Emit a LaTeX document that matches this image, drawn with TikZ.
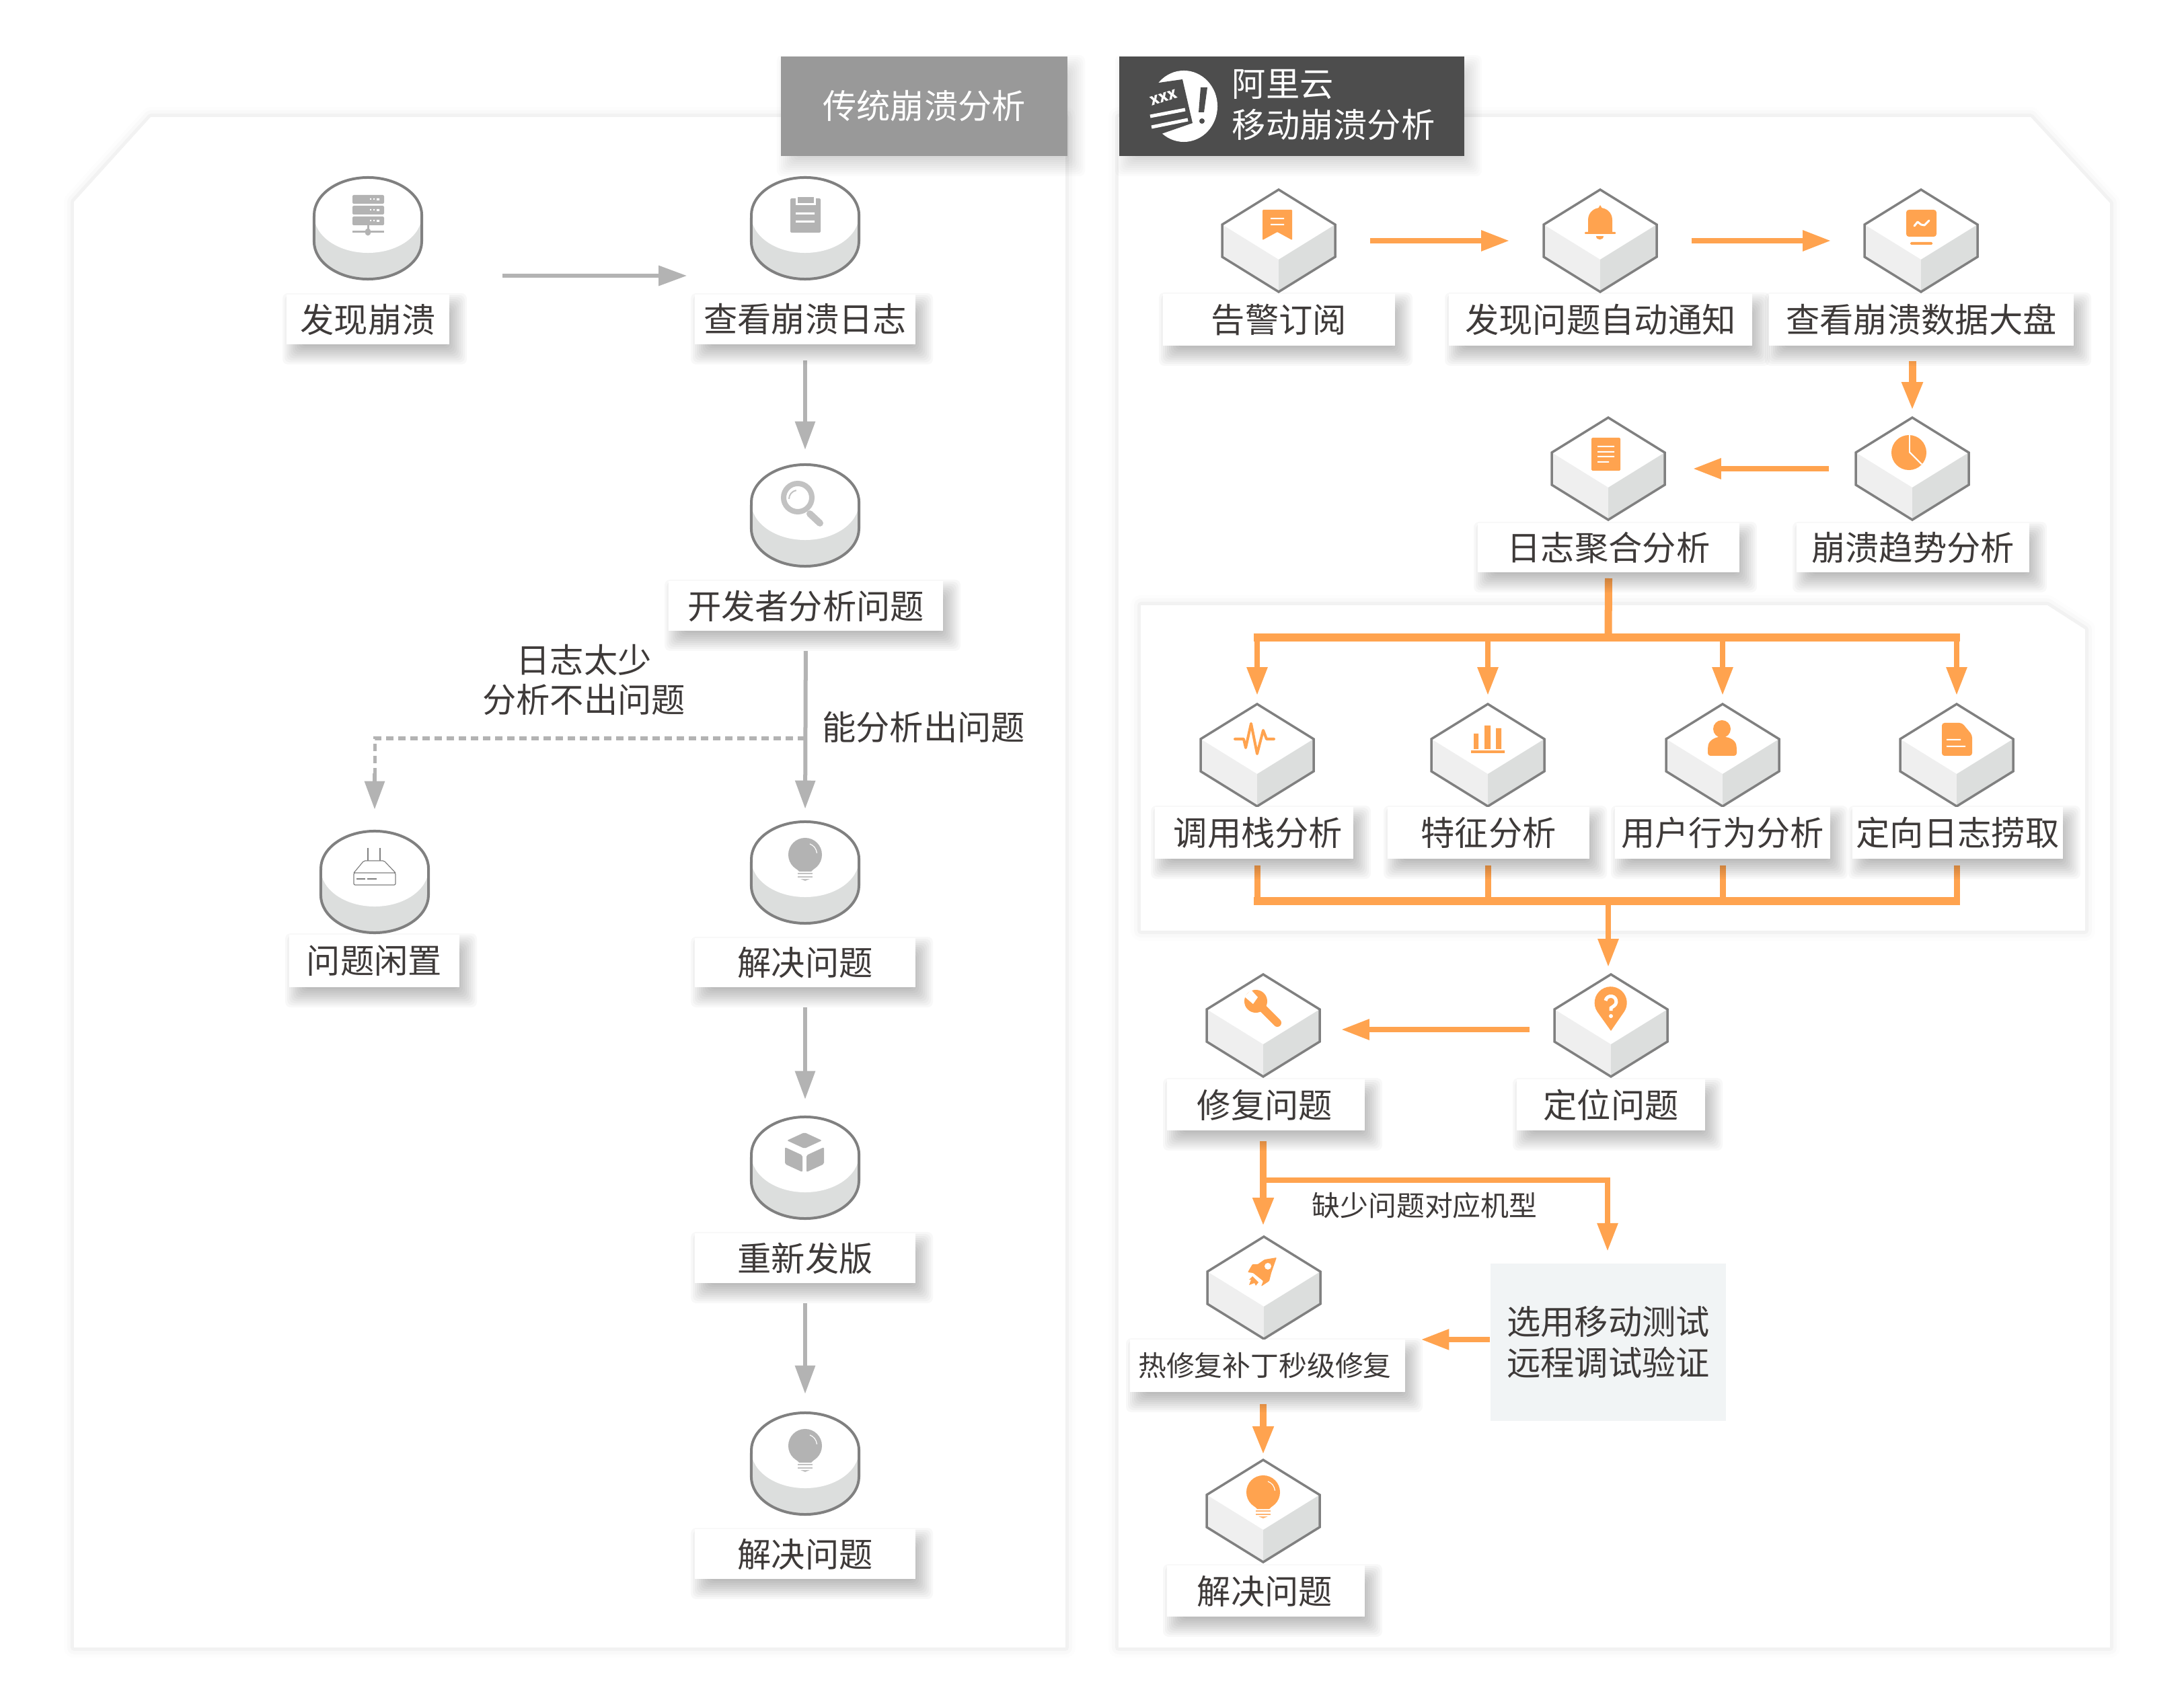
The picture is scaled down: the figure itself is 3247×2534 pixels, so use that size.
\documentclass[tikz,border=0pt]{standalone}
\usepackage{fontspec}
\usepackage{xcolor}
\setmainfont{Noto Sans CJK SC}
\usetikzlibrary{arrows.meta,calc}
\pgfdeclarelayer{panelslayer}
\pgfdeclarelayer{connlayer}
\pgfsetlayers{panelslayer,connlayer,main}
\definecolor{txtc}{HTML}{3E3A39}
\definecolor{org}{HTML}{FFA34F}
\definecolor{gry}{HTML}{B3B3B3}
\definecolor{edgec}{HTML}{808080}
\definecolor{facel}{HTML}{EFEFEF}
\definecolor{facer}{HTML}{DCDEDD}
\definecolor{hdg}{HTML}{999999}
\definecolor{hdd}{HTML}{4D4D4D}
\definecolor{boxc}{HTML}{F1F4F5}
\tikzset{
 panelshadow/.style={
  preaction={draw=black,line width=.30cm,draw opacity=.008,fill=black,fill opacity=.008,line join=round},
  preaction={draw=black,line width=.20cm,draw opacity=.016,fill=black,fill opacity=.016,line join=round},
  preaction={draw=black,line width=.10cm,draw opacity=.028,fill=black,fill opacity=.028,line join=round}},
 panel/.style={panelshadow,fill=white},
 labelbox/.style={fill=white,inner sep=0pt,outer sep=0pt,text=txtc,font=\fontsize{14.3pt}{17pt}\selectfont,align=center},
 smalllabel/.style={labelbox,font=\fontsize{11.9pt}{14pt}\selectfont},
 freetext/.style={text=txtc,inner sep=0pt,font=\fontsize{14.3pt}{16.6pt}\selectfont,align=center},
 header/.style={inner sep=0pt,outer sep=0pt,text=white,font=\fontsize{14.3pt}{16.6pt}\selectfont,align=center},
 garrow/.style={draw=gry,line width=.06cm,-{Triangle[length=.42cm,width=.29cm]}},
 gdash/.style={draw=gry,line width=.05cm,dash pattern=on .11cm off .07cm},
 oarrow/.style={draw=org,line width=.085cm,-{Triangle[length=.42cm,width=.29cm]}},
 oline/.style={draw=org,line width=.09cm},
 obus/.style={draw=org,line width=.11cm},
 outl/.style={draw=edgec,line width=.035cm,line join=miter},
}
% soft shadow of a box: x0,y0,x1,y1,opacity of one layer
\newcommand{\softbox}[5]{%
 \foreach \k in {16,13,...,-11}{\fill[black,opacity=#5,rounded corners=.08cm] (#1+10-\k,#2+14-\k) rectangle (#3+10+\k,#4+14+\k);}%
}
% cylinder: name, cx, top
\newcommand{\cyl}[3]{%
 \fill[facer] (#2-80,#3+57) -- (#2-80,#3+96) arc[start angle=180,end angle=360,x radius=.8cm,y radius=.56cm] -- (#2+80,#3+57) -- cycle;
 \fill[white] (#2,#3+57) ellipse[x radius=.8cm,y radius=.56cm];
 \draw[edgec,line width=.04cm] (#2-80,#3+57) arc[start angle=180,end angle=0,x radius=.8cm,y radius=.56cm] -- (#2+80,#3+96) arc[start angle=360,end angle=180,x radius=.8cm,y radius=.56cm] -- cycle;
 \node[inner sep=0pt,minimum width=1.6cm,minimum height=1.53cm] (#1) at (#2,#3+76) {};
}
% hexagon: name, cx, top
\newcommand{\hexa}[3]{%
 \fill[white] (#2,#3) -- (#2+84,#3+52) -- (#2,#3+104) -- (#2-84,#3+52) -- cycle;
 \fill[facel] (#2-84,#3+52) -- (#2,#3+104) -- (#2,#3+152) -- (#2-84,#3+100) -- cycle;
 \fill[facer] (#2+84,#3+52) -- (#2,#3+104) -- (#2,#3+152) -- (#2+84,#3+100) -- cycle;
 \draw[outl] (#2,#3) -- (#2+84,#3+52) -- (#2+84,#3+100) -- (#2,#3+152) -- (#2-84,#3+100) -- (#2-84,#3+52) -- cycle;
 \node[inner sep=0pt,minimum width=1.68cm,minimum height=1.52cm] (#1) at (#2,#3+76) {};
}
% label: name, x0, y0, x1, y1, text
\newcommand{\lab}[6]{%
 \softbox{#2}{#3}{#4}{#5}{.026}%
 \node[labelbox,minimum width={(#4-#2)*0.01cm},minimum height={(#5-#3)*0.01cm}] (#1) at ({(#2+#4)/2},{(#3+#5)/2}) {#6};
}
% bulb: colour, cx, y of the bulb centre
\newcommand{\bulb}[3]{%
 \fill[#1] (#2,#3) circle[radius=.25cm];
 \fill[#1] (#2-17,#3+17) -- (#2-9,#3+25) -- (#2+9,#3+25) -- (#2+17,#3+17) -- cycle;
 \draw[white,line width=.012cm] (#2+7,#3-16) arc[start angle=70,end angle=5,radius=.16cm];
 \fill[#1,opacity=.8] (#2-11,#3+27) rectangle (#2+11,#3+29);
 \fill[#1,opacity=.8] (#2-11,#3+32) rectangle (#2+11,#3+34);
 \fill[#1,opacity=.8] (#2-7,#3+36) -- (#2+7,#3+36) -- (#2,#3+39) -- cycle;
}
\begin{document}
\begin{tikzpicture}[x=.01cm,y=-.01cm]
\useasboundingbox (0,0) rectangle (3247,2534);
\begin{pgfonlayer}{panelslayer}
\fill[white] (0,0) rectangle (3247,2534);
% panels
\path[panel] (224,174) -- (1584,174) -- (1584,2450) -- (110,2450) -- (110,300) -- cycle;
\path[panel] (1663,174) -- (3019,174) -- (3137,302) -- (3137,2450) -- (1663,2450) -- cycle;
\path[panel] (1696,900) -- (3044,900) -- (3100,936) -- (3100,1384) -- (1696,1384) -- cycle;
\end{pgfonlayer}
% headers
\softbox{1161}{84}{1587}{232}{.014}
\softbox{1664}{84}{2177}{232}{.014}
\node[header,fill=hdg,minimum width=4.26cm,minimum height=1.48cm] (h1) at (1374,158) {\raisebox{.06cm}{传统崩溃分析}};
\node[header,fill=hdd,minimum width=5.13cm,minimum height=1.48cm] (h2) at (1920.5,158) {};
\node[anchor=west,inner sep=0pt,text=white,align=left,font=\fontsize{14.3pt}{17.3pt}\selectfont] (h2t) at (1831,156) {阿里云\\移动崩溃分析};
% header logo
\fill[white] (1760,158) ellipse[x radius=.5cm,y radius=.53cm];
\fill[hdd] (1695,100) -- (1716,124) -- (1758,118) -- (1773,183) -- (1724,200) -- (1695,215) -- cycle;
\fill[hdd] (1785,130) -- (1795,130) -- (1790,167) -- (1782,167) -- cycle;
\fill[hdd] (1787,180) circle[radius=.04cm];
\node[text=white,inner sep=0pt,rotate=18,font=\fontsize{6.6pt}{7pt}\bfseries\selectfont] (logox) at (1730,145) {xxx};
\draw[white,line width=.05cm] (1710,173) -- (1762,163) (1712,189) -- (1766,178);
% ---------- left column
\cyl{c1}{547}{263}
\cyl{c2}{1197}{263}
\cyl{c3}{1197}{690}
\cyl{c4}{557}{1235}
\cyl{c5}{1197}{1221}
\cyl{c6}{1197}{1660}
\cyl{c7}{1197}{2100}
\lab{l1}{426}{438}{668}{512}{发现崩溃}
\lab{l2}{1033}{438}{1361}{512}{查看崩溃日志}
\lab{l3}{994}{864}{1402}{938}{开发者分析问题}
\lab{l4}{430}{1390}{683}{1468}{问题闲置}
\lab{l5}{1033}{1395}{1361}{1468}{解决问题}
\lab{l6}{1033}{1834}{1361}{1908}{重新发版}
\lab{l7}{1033}{2274}{1361}{2348}{解决问题}
% server icon
\foreach \yy in {290,306,322}{\fill[gry,rounded corners=.02cm] (524,\yy) rectangle (571,\yy+13);
 \fill[white] (550,\yy+5) rectangle (552,\yy+7) (555,\yy+5) rectangle (557,\yy+7) (560,\yy+5) rectangle (564,\yy+8);}
\draw[gry,line width=.03cm] (524,345) -- (571,345) (547,335) -- (547,345);
\fill[gry] (547,345) ellipse[x radius=.045cm,y radius=.055cm];
% clipboard icon
\fill[gry,rounded corners=.02cm] (1175,295) rectangle (1220,346);
\fill[white] (1183,292) rectangle (1213,305);
\fill[gry] (1186,293) rectangle (1210,302);
\fill[white] (1183,316) rectangle (1211,319) (1183,328) rectangle (1211,331);
% magnifier icon
\draw[gry!80,line width=.08cm] (1186,740) circle[radius=.21cm];
\draw[gry!80,line width=.1cm,line cap=round] (1204,764) -- (1219,778);
\draw[gry!80,line width=.02cm] (1173,742) arc[start angle=180,end angle=100,radius=.13cm];
% router icon
\draw[edgec,line width=.012cm,rounded corners=.02cm] (526,1298) -- (541,1280) -- (571,1280) -- (588,1298) (526,1298) rectangle (588,1316);
\draw[edgec,line width=.012cm] (547,1261) -- (547,1280) (565,1261) -- (565,1280);
\draw[edgec,line width=.012cm] (530,1307) -- (543,1307) (546,1307) -- (560,1307);
% bulbs and cube
\bulb{gry}{1197}{1271}
\bulb{gry}{1197}{2150}
\fill[gry,rounded corners=.02cm] (1196,1684) -- (1222,1696) -- (1196,1708) -- (1170,1696) -- cycle;
\fill[gry,rounded corners=.02cm] (1167,1706) -- (1193,1718) -- (1193,1743) -- (1167,1731) -- cycle;
\fill[gry,rounded corners=.02cm] (1225,1706) -- (1199,1718) -- (1199,1743) -- (1225,1731) -- cycle;
\node[freetext] (t1) at (868,1011) {日志太少\\分析不出问题};
\node[freetext] (t2) at (1373,1081) {能分析出问题};
% ---------- right column
\hexa{h1a}{1901}{282}
\hexa{h2a}{2379}{282}
\hexa{h3a}{2856}{282}
\hexa{h4a}{2391}{621}
\hexa{h5a}{2843}{621}
\hexa{h6a}{1869}{1047}
\hexa{h7a}{2212}{1047}
\hexa{h8a}{2561}{1047}
\hexa{h9a}{2909}{1047}
\hexa{h10a}{2395}{1449}
\hexa{h11a}{1878}{1449}
\hexa{h12a}{1879}{1839}
\hexa{h13a}{1878}{2171}
\lab{r1}{1729}{437}{2074}{514}{告警订阅}
\lab{r2}{2154}{437}{2605}{514}{发现问题自动通知}
\lab{r3}{2630}{437}{3083}{514}{查看崩溃数据大盘}
\lab{r4}{2197}{778}{2586}{851}{日志聚合分析}
\lab{r5}{2671}{778}{3017}{851}{崩溃趋势分析}
\lab{r6}{1717}{1200}{2012}{1277}{\hspace*{.12cm}调用栈分析}
\lab{r7}{2063}{1200}{2363}{1277}{特征分析}
\lab{r8}{2401}{1200}{2721}{1277}{用户行为分析}
\lab{r9}{2754}{1200}{3067}{1277}{定向日志捞取}
\lab{r10}{1735}{1605}{2029}{1681}{\hspace*{-.03cm}修复问题}
\lab{r11}{2255}{1605}{2535}{1681}{定位问题}
\softbox{1680}{1992}{2089}{2070}{.026}
\node[smalllabel,minimum width=4.09cm,minimum height=.78cm] (r12) at (1884.5,2031) {\hspace*{-.08cm}热修复补丁秒级修复};
\lab{r13}{1735}{2328}{2029}{2404}{\hspace*{-.03cm}解决问题}
\node[fill=boxc,inner sep=0pt,text=txtc,align=center,minimum width=3.5cm,minimum height=2.34cm,font=\fontsize{14.3pt}{17.3pt}\selectfont] (b1) at (2391,1996) {\raisebox{.02cm}{选用移动测试}\\\raisebox{.02cm}{远程调试验证}};
\node[freetext,font=\fontsize{11.9pt}{14pt}\selectfont] (t3) at (2118,1793) {缺少问题对应机型};
% orange icons
\fill[org,rounded corners=.01cm] (1877,312) -- (1921,312) -- (1921,357) -- (1899,345) -- (1877,357) -- cycle;
\fill[white] (1889,324) rectangle (1909,326) (1889,333) rectangle (1909,335);
% bell
\fill[org] (2379,305) -- (2382,310) -- (2376,310) -- cycle;
\fill[org] (2361,345) -- (2361,327) .. controls (2361,316) and (2370,309) .. (2379,309) .. controls (2388,309) and (2397,316) .. (2397,327) -- (2397,345) -- cycle;
\fill[org,rounded corners=.01cm] (2356,345) rectangle (2402,348);
\fill[org] (2373,351) -- (2384,351) .. controls (2384,358) and (2373,358) .. (2373,351) -- cycle;
% chart
\fill[org,rounded corners=.04cm] (2834,312) rectangle (2879,352);
\fill[org,rounded corners=.015cm] (2840,360) rectangle (2873,364);
\draw[white,line width=.03cm,line cap=round,line join=round] (2846,336) -- (2851,330) -- (2856,334) -- (2861,335) -- (2868,328);
% document
\fill[org,rounded corners=.015cm] (2366,651) rectangle (2409,700);
\fill[white] (2375,663) rectangle (2400,665) (2375,671) rectangle (2400,673) (2375,678) rectangle (2400,680) (2375,686) rectangle (2392,688);
% pie
\fill[org] (2838,673) -- (2838,647) arc[start angle=90,end angle=-315,radius=.26cm] -- cycle;
\fill[white] (2838,647) rectangle (2840,673);
\fill[white] (2838,673) -- (2840,672) -- (2858,690) -- (2856,691) -- cycle;
% pulse
\draw[org,line width=.04cm,line join=round,line cap=round] (1836,1099) -- (1849,1099) -- (1852,1112) -- (1860,1076) -- (1869,1121) -- (1878,1086) -- (1883,1099) -- (1894,1099);
% bars
\fill[org] (2191,1091) rectangle (2198,1114) (2207,1079) rectangle (2216,1114) (2224,1083) rectangle (2232,1114) (2187,1116) rectangle (2237,1120);
% user
\fill[org] (2560,1084) circle[radius=.13cm];
\fill[org,rounded corners=.04cm] (2539,1124) -- (2539,1112) .. controls (2541,1100) and (2552,1096) .. (2560,1096) .. controls (2570,1096) and (2580,1100) .. (2582,1112) -- (2582,1124) -- cycle;
% doc with fold
\fill[org,rounded corners=.04cm] (2887,1075) -- (2917,1075) -- (2932,1093) -- (2932,1124) -- (2887,1124) -- cycle;
\fill[white] (2894,1099) rectangle (2915,1101) (2894,1109) rectangle (2922,1111);
% pin
\fill[org] (2395,1533) -- (2375,1505) arc[start angle=215,end angle=-35,radius=.24cm] -- cycle;
\draw[white,line width=.05cm] (2387,1488) arc[start angle=170,end angle=-50,radius=.08cm] -- (2395,1499) -- (2395,1503);
\fill[white] (2395,1511) circle[radius=.03cm];
% wrench
\draw[org,line width=.12cm,line cap=round] (1867,1489) -- (1899,1521);
\fill[org] (1867,1489) circle[radius=.17cm];
\fill[white] (1850,1482) -- (1860,1472) -- (1870,1483) -- (1863,1493) -- cycle;
% rocket
\fill[org,rounded corners=.01cm] (1898,1870) -- (1880,1873) -- (1870,1880) -- (1862,1880) -- (1855,1892) -- (1863,1893) -- (1878,1905) -- (1875,1913) -- (1887,1905) -- (1890,1893) -- cycle;
\fill[org] (1862,1898) -- (1857,1903) -- (1860,1903) -- (1857,1911) -- (1865,1908) -- (1867,1912) -- (1871,1907) -- cycle;
\fill[white] (1885,1883) circle[radius=.05cm];
\bulb{org}{1878}{2219}
% ---------- connectors, under the shadows of the labels
\begin{pgfonlayer}{connlayer}
% left
\draw[garrow,shorten <=1.19cm,shorten >=.95cm] ([yshift=-.71cm]c1.east) -- ([yshift=-.71cm]c2.west);
\draw[garrow,shorten <=.24cm,shorten >=.2cm] (l2.south) -- (c3.north);
\coordinate (split) at (1197,1098);
\draw[garrow,shorten <=.3cm,shorten >=.17cm] (l3.south) -- (c5.north);
\coordinate (dashend) at (557,1150);
\draw[gdash] (split) -- (split -| c4.north) -- (dashend);
\draw[garrow,shorten >=.3cm] (dashend) -- (c4.north);
\draw[garrow,shorten <=.3cm,shorten >=.24cm] (l5.south) -- (c6.north);
\draw[garrow,shorten <=.3cm,shorten >=.26cm] (l6.south) -- (c7.north);
% right
\draw[oarrow,shorten <=.51cm,shorten >=.5cm] (h1a.east) -- (h2a.west);
\draw[oarrow,shorten <=.51cm,shorten >=.49cm] (h2a.east) -- (h3a.west);
\draw[oarrow,line width=.11cm,shorten <=.23cm,shorten >=.1cm] (r3.south -| h5a.north) -- (h5a.north);
\draw[oarrow,shorten <=.39cm,shorten >=.41cm] (h5a.west) -- (h4a.east);
\coordinate (bus1) at (2391,948);
\coordinate (bus1l) at (1864,948);
\coordinate (bus1r) at (2914,948);
\draw[obus] (r4.south) ++(0,9) -- (bus1);
\draw[obus] (bus1l) -- (bus1r);
\foreach \hh in {h6a,h7a,h8a,h9a}{\draw[oarrow,shorten >=.12cm] (bus1 -| \hh.north) -- (\hh.north);}
\coordinate (bus2) at (2391,1340);
\coordinate (bus2l) at (1864,1340);
\coordinate (bus2r) at (2914,1340);
\draw[obus] (bus2l) -- (bus2r);
\draw[oline] (r6.south -| h6a.north) ++(0,10) -- (bus2 -| h6a.north);
\foreach \hh in {h7a,h8a,h9a}{\draw[oline] (r7.south -| \hh.north) ++(0,10) -- (bus2 -| \hh.north);}
\draw[oarrow,shorten >=.1cm] (bus2) -- (bus2 |- h10a.north);
\draw[oarrow,shorten <=.36cm,shorten >=.31cm] ([yshift=-.06cm]h10a.west) -- ([yshift=-.06cm]h11a.east);
\coordinate (fix) at (1878,1755);
\coordinate (test) at (2390,1861);
\draw[oarrow,line width=.1cm,shorten <=.16cm,shorten >=.15cm] (r10.south -| h11a.south) -- (h12a.north -| h11a.south);
\draw[oarrow] (fix) -- (fix -| test) -- (test);
\draw[oarrow,shorten >=.233cm] (b1.west |- r12.north) -- (r12.north east);
\draw[oarrow,line width=.1cm,shorten <=.18cm,shorten >=.07cm] (r12.south -| h13a.north) -- (h13a.north);
\end{pgfonlayer}
\end{tikzpicture}
\end{document}
